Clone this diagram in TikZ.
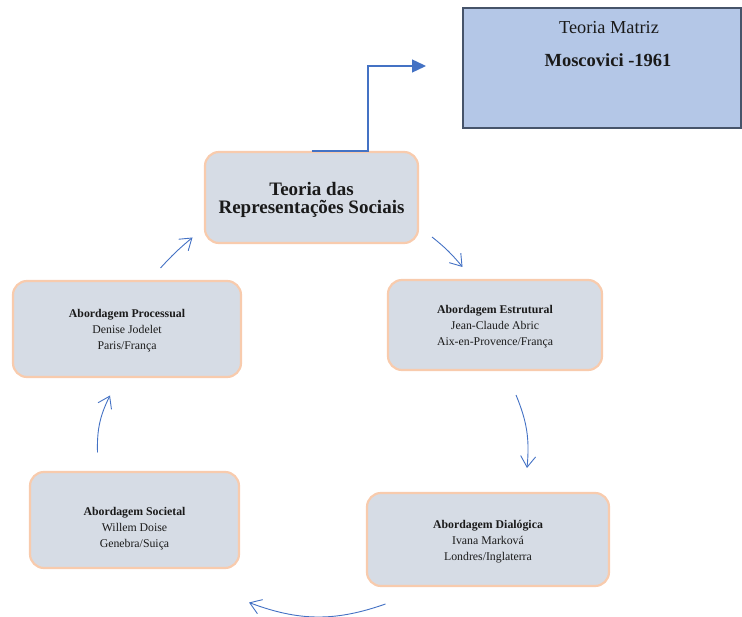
\documentclass[tikz,border=0pt]{standalone}
\usepackage{fontspec}
\setmainfont{Liberation Serif}
\usetikzlibrary{arrows.meta,positioning}
\definecolor{boxfill}{HTML}{D6DCE5}
\definecolor{boxline}{HTML}{F8CBAD}
\definecolor{topfill}{HTML}{B4C7E7}
\definecolor{topline}{HTML}{46546A}
\definecolor{arrowblue}{HTML}{4472C4}
\definecolor{ink}{HTML}{1A1A1A}
\tikzset{
  stagebox/.style={draw=boxline, line width=2.2pt, fill=boxfill, rounded corners=14pt, inner sep=0pt},
  stagetext/.style={align=center, text=ink, font=\fontsize{11.8}{16}\selectfont, inner sep=0pt},
  maintext/.style={stagetext, font=\fontsize{19}{18}\selectfont\bfseries},
  matrizbox/.style={draw=topline, line width=1.3pt, fill=topfill, inner sep=0pt},
  flowarrow/.style={draw=arrowblue, line width=0.9pt, -{Straight Barb[length=11pt,width=15pt,line width=0.9pt]}},
  linkarrow/.style={draw=arrowblue, line width=1.4pt, -{Triangle[length=14pt,width=13pt]}},
}
\begin{document}
\begin{tikzpicture}[x=1pt,y=-1pt]
\useasboundingbox (0,0) rectangle (742,617);

% framework box
\node[matrizbox, minimum width=278pt, minimum height=120pt] (matriz) at (602,68) {};
\node[font=\fontsize{18.3}{20}\selectfont, text=ink] (matrizA) at (609,28) {Teoria Matriz};
\node[font=\fontsize{18.5}{20}\selectfont\bfseries, text=ink] (matrizB) at (608,60) {Moscovici -1961};

% central theory
\node[stagebox, minimum width=213pt, minimum height=91pt] (trs) at (311.5,197.5) {};
\node[maintext] (trstext) at (311.5,200) {Teoria das\\Representações Sociais};

% approaches
\node[stagebox, minimum width=228pt, minimum height=96pt] (proc) at (127,329) {};
\node[stagetext] (proctext) at (127,331)
  {\textbf{Abordagem Processual}\\Denise Jodelet\\Paris/França};
\node[stagebox, minimum width=214pt, minimum height=90pt] (estr) at (495,325) {};
\node[stagetext] (estrtext) at (495,327)
  {\textbf{Abordagem Estrutural}\\Jean-Claude Abric\\Aix-en-Provence/França};
\node[stagebox, minimum width=209pt, minimum height=96pt] (soc) at (134.5,520) {};
\node[stagetext] (soctext) at (134.5,529)
  {\textbf{Abordagem Societal}\\Willem Doise\\Genebra/Suiça};
\node[stagebox, minimum width=242pt, minimum height=93pt] (dial) at (488,539.5) {};
\node[stagetext] (dialtext) at (488,541.5)
  {\textbf{Abordagem Dialógica}\\Ivana Marková\\Londres/Inglaterra};

% link to the framework
\coordinate (linkend) at (426,66);
\draw[linkarrow] (trs.north) -| (368,66) -- (linkend);

% cycle arrows
\coordinate (c1a) at (432,237);  \coordinate (c1b) at (462.5,267);
\coordinate (c2a) at (516,395);  \coordinate (c2b) at (527,468);
\coordinate (c3a) at (385.5,604); \coordinate (c3b) at (249,602.5);
\coordinate (c4a) at (97.5,452.5); \coordinate (c4b) at (110,395.5);
\coordinate (c5a) at (160.5,268); \coordinate (c5b) at (192.5,237.5);

\draw[flowarrow] (c1a) to[bend left=6] (c1b);
\draw[flowarrow] (c2a) to[bend left=14] (c2b);
\draw[flowarrow] (c3a) to[bend left=20] (c3b);
\draw[flowarrow] (c4a) to[bend left=14] (c4b);
\draw[flowarrow] (c5a) to[bend left=4] (c5b);
\end{tikzpicture}
\end{document}
